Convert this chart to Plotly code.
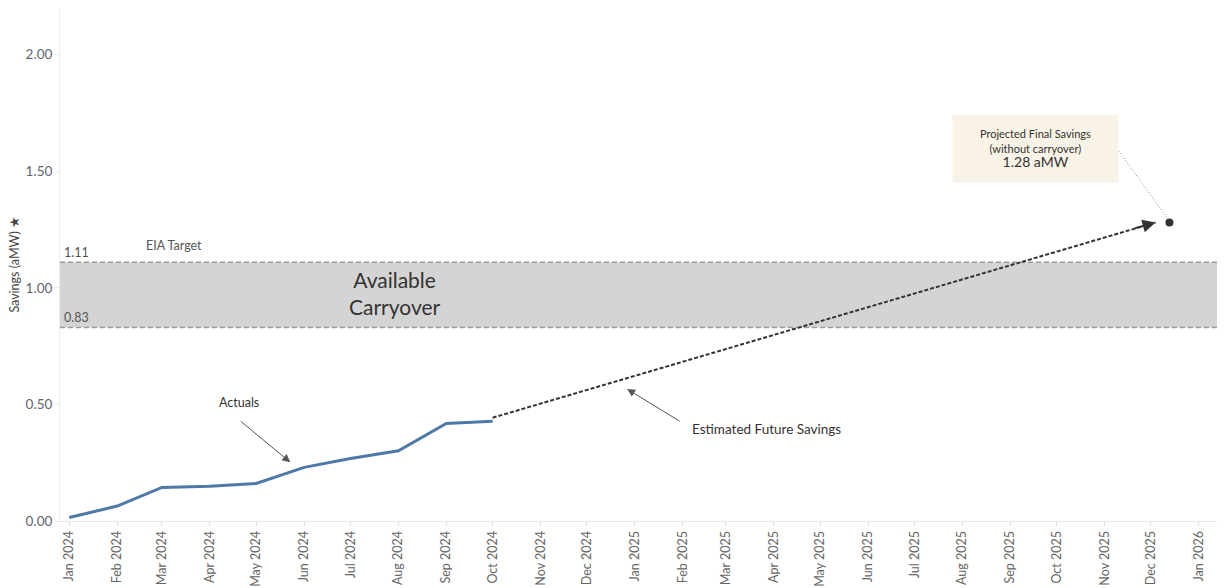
import plotly.graph_objects as go

# ---------------- data ----------------
actual_dates = ["2024-01-01", "2024-02-01", "2024-03-01", "2024-04-01", "2024-05-01",
                "2024-06-01", "2024-07-01", "2024-08-01", "2024-09-01", "2024-10-01"]
actual_values = [0.015, 0.064, 0.144, 0.149, 0.161, 0.230, 0.268, 0.301, 0.418, 0.428]

projected_date = "2025-12-13"
projected_value = 1.28
arrow_tip_date = "2025-12-04"

target_high = 1.11
target_low = 0.83

y_ticks = [0, 0.5, 1.0, 1.5, 2.0]
x_range = ["2023-12-26", "2026-01-16"]
y_range = [0, 2.2]

FONT = "Lato"
GREY = "#666666"

fig = go.Figure()

# band & target lines
fig.add_shape(type="rect", xref="paper", x0=0, x1=1, yref="y", y0=target_low, y1=target_high,
              fillcolor="#d4d4d4", line=dict(width=0), layer="below")
for v in (target_high, target_low):
    fig.add_shape(type="line", xref="paper", x0=0, x1=1, yref="y", y0=v, y1=v,
                  line=dict(color="#9a9a9a", width=1.5, dash="5px,3px"), layer="below")

# estimated future (dashed)
fig.add_trace(go.Scatter(x=[actual_dates[-1], arrow_tip_date],
                         y=[actual_values[-1] + 0.015, projected_value],
                         mode="lines", line=dict(color="#333333", width=2, dash="4px,2px"),
                         hoverinfo="skip", showlegend=False))

# actuals
fig.add_trace(go.Scatter(x=actual_dates, y=actual_values, mode="lines",
                         line=dict(color="#4e79a7", width=3), showlegend=False))

# leader line from box to point (dotted)
fig.add_trace(go.Scatter(x=["2025-11-09", "2025-12-12"], y=[1.598, 1.295], mode="lines",
                         line=dict(color="#888888", width=1, dash="1px,2px"),
                         hoverinfo="skip", showlegend=False))

# projected point
fig.add_trace(go.Scatter(x=[projected_date], y=[projected_value], mode="markers",
                         marker=dict(color="#333333", size=8), showlegend=False))

ann = []
# arrowhead at end of dashed line
ann.append(dict(x=arrow_tip_date, y=projected_value, xref="x", yref="y", ax=-22, ay=6,
                text="", showarrow=True, arrowhead=2, arrowsize=1.3, arrowwidth=2,
                arrowcolor="#333333", standoff=0))

# target labels
ann.append(dict(xref="paper", x=0.002, y=target_high, yref="y", text="1.11", showarrow=False,
                xanchor="left", yanchor="bottom", font=dict(family=FONT, size=12.5, color="#555555")))
ann.append(dict(xref="paper", x=0.002, y=target_low, yref="y", text="0.83", showarrow=False,
                xanchor="left", yanchor="bottom", font=dict(family=FONT, size=12.5, color="#555555")))
ann.append(dict(x="2024-03-09", y=1.18, xref="x", yref="y", text="EIA Target", showarrow=False,
                font=dict(family=FONT, size=12.5, color="#555555")))
ann.append(dict(x="2024-07-30", y=0.978, xref="x", yref="y", text="Available<br>Carryover",
                showarrow=False, font=dict(family=FONT, size=21, color="#333333")))

# actuals label + arrow
ann.append(dict(x="2024-04-20", y=0.51, xref="x", yref="y", text="Actuals", showarrow=False,
                font=dict(family=FONT, size=12.5, color="#333333")))
ann.append(dict(x="2024-05-23", y=0.252, xref="x", yref="y", ax="2024-04-20", ay=0.433,
                axref="x", ayref="y", text="", showarrow=True, arrowhead=2, arrowsize=1.6,
                arrowwidth=1, arrowcolor="#555555", standoff=0))

# estimated future label + arrow
ann.append(dict(x="2025-02-06", y=0.394, xref="x", yref="y", text="Estimated Future Savings",
                showarrow=False, xanchor="left", font=dict(family=FONT, size=13.5, color="#333333")))
ann.append(dict(x="2024-12-27", y=0.566, xref="x", yref="y", ax="2025-01-31", ay=0.424,
                axref="x", ayref="y", text="", showarrow=True, arrowhead=2, arrowsize=1.6,
                arrowwidth=1, arrowcolor="#555555", standoff=0))

# projected box
ann.append(dict(x="2025-09-17", y=1.598, xref="x", yref="y",
                text=("<span style='font-size:11px'>Projected Final Savings</span><br>"
                      "<span style='font-size:11px'>(without carryover)</span><br>"
                      "<span style='font-size:14px'>1.28 aMW</span>"),
                showarrow=False, bgcolor="#f8f3e6", width=163, height=65,
                font=dict(family=FONT, size=11, color="#333333")))

# y axis title
ann.append(dict(xref="paper", yref="paper", x=-0.0395, y=0.5, text="Savings (aMW) ★",
                textangle=-90, showarrow=False, xanchor="center", yanchor="middle",
                font=dict(family=FONT, size=12.5, color="#444444")))

# page has an 8px body margin, so the figure is sized/offset to compensate
fig.update_layout(
    width=1217, height=580,
    margin=dict(l=52, r=3, t=0, b=67),
    paper_bgcolor="white", plot_bgcolor="white",
    showlegend=False,
    annotations=ann,
    font=dict(family=FONT, color=GREY),
)
fig.update_xaxes(type="date", range=x_range, dtick="M1", tick0="2024-01-01",
                 tickformat="%b %Y", tickangle=-90, showgrid=False, zeroline=False,
                 showline=True, linecolor="#e8e8e8", ticks="outside", ticklen=4,
                 tickcolor="#e0e0e0", tickfont=dict(family=FONT, size=12.5, color=GREY),
                 automargin=False)
fig.update_yaxes(range=y_range, tickvals=y_ticks, tickformat=".2f", showgrid=False,
                 zeroline=False, showline=True, linecolor="#eeeeee", ticks="outside",
                 ticklen=4, tickcolor="#e8e8e8", automargin=False,
                 tickfont=dict(family=FONT, size=13.5, color="#5f6470"))

fig.write_html("out.html")
